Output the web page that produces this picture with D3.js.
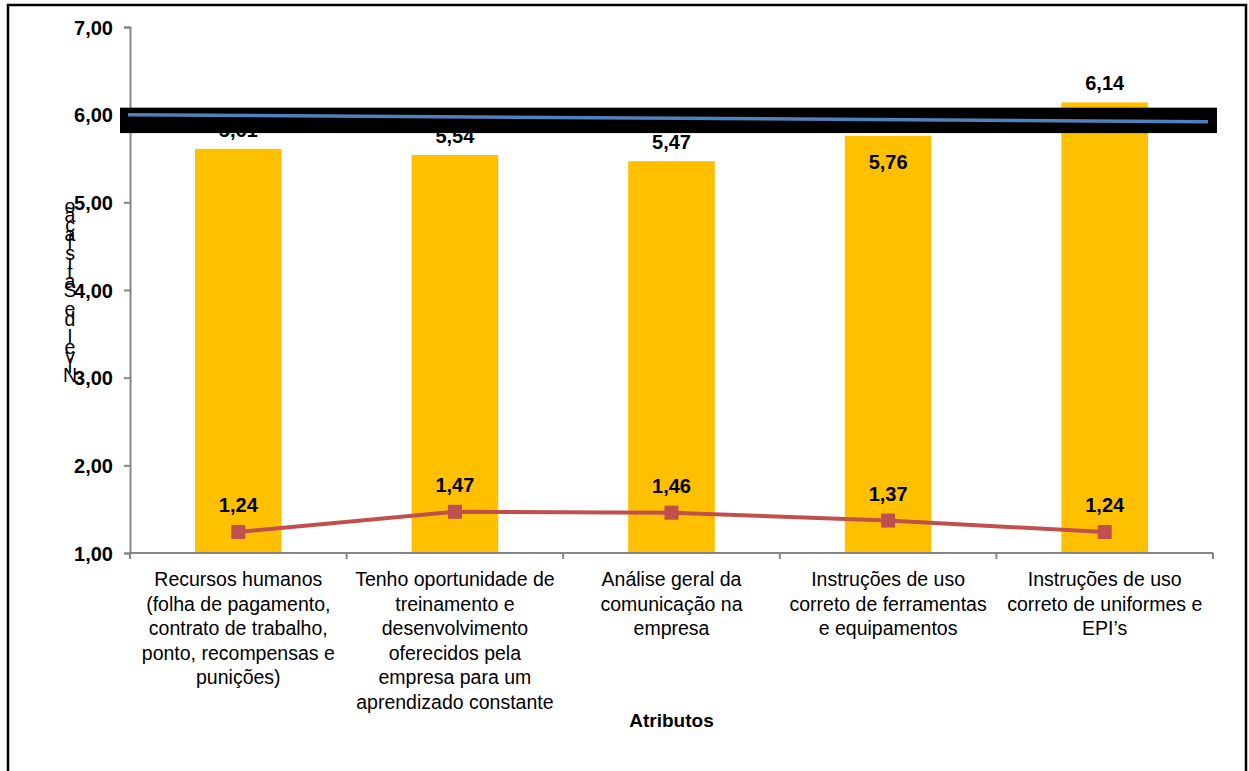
<!DOCTYPE html>
<html>
<head>
<meta charset="utf-8">
<script src="https://cdn.jsdelivr.net/npm/d3@7"></script>
<style>
  html, body { margin: 0; padding: 0; background: #fff; }
  svg { display: block; font-family: "Liberation Sans", Arial, sans-serif; }
</style>
</head>
<body>
<svg id="chart" width="1249" height="771"></svg>
<script>
// Attribute categories (one line per array entry)
const categories = [
  ["Recursos humanos", "(folha de pagamento,", "contrato de trabalho,", "ponto, recompensas e", "punições)"],
  ["Tenho oportunidade de", "treinamento e", "desenvolvimento", "oferecidos pela", "empresa para um", "aprendizado constante"],
  ["Análise geral da", "comunicação na", "empresa"],
  ["Instruções de uso", "correto de ferramentas", "e equipamentos"],
  ["Instruções de uso", "correto de uniformes e", "EPI’s"]
];
// Mean satisfaction per attribute (bars)
const meanValues = [5.61, 5.54, 5.47, 5.76, 6.14];
// Standard deviation per attribute (red line)
const sdValues = [1.24, 1.47, 1.46, 1.37, 1.24];
// Reference line (start / end value) and the dark band behind it
const refLine = [6.00, 5.92];
const refBand = [6.08, 5.79];
// Y axis ticks
const yTicks = [1, 2, 3, 4, 5, 6, 7];
const yLabel = "Nível de Satisfação";
const xLabel = "Atributos";

const fmt = v => d3.format(".2f")(v).replace(".", ",");

const svg = d3.select("#chart");
const W = 1249, H = 771;
const plot = { left: 130, right: 1213, top: 27, bottom: 553 };

// outer frame
svg.append("rect")
  .attr("x", 8).attr("y", 5).attr("width", 1238).attr("height", H + 10)
  .attr("fill", "#fff").attr("stroke", "#000").attr("stroke-width", 2.5);

const x = d3.scaleBand()
  .domain(d3.range(categories.length))
  .range([plot.left, plot.right])
  .padding(0);
const y = d3.scaleLinear().domain([1, 7]).range([plot.bottom, plot.top]);

const barW = x.bandwidth() * 0.4;
const cx = i => x(i) + x.bandwidth() / 2;

// bars
svg.append("g").selectAll("rect")
  .data(meanValues)
  .join("rect")
  .attr("x", (d, i) => cx(i) - barW / 2)
  .attr("y", d => y(d))
  .attr("width", barW)
  .attr("height", d => y(1) - y(d))
  .attr("fill", "#FFC000");

// y axis
const yAxis = svg.append("g")
  .attr("transform", `translate(${plot.left},0)`)
  .call(d3.axisLeft(y).tickValues(yTicks).tickFormat(fmt).tickSize(6).tickSizeOuter(6));
yAxis.select(".domain").attr("stroke", "#868686").attr("stroke-width", 2);
yAxis.selectAll(".tick line").attr("stroke", "#868686").attr("stroke-width", 2);
yAxis.selectAll(".tick text")
  .attr("x", -17).attr("dy", "0.36em")
  .attr("fill", "#000")
  .style("font-size", "20px").style("font-weight", "bold")
  .style("font-family", "'Liberation Sans', Arial, sans-serif");

// x axis with category separators
const xAxisG = svg.append("g").attr("transform", `translate(0,${plot.bottom})`);
xAxisG.append("line")
  .attr("x1", plot.left).attr("x2", plot.right)
  .attr("stroke", "#868686").attr("stroke-width", 2);
xAxisG.selectAll("line.sep")
  .data(d3.range(categories.length + 1))
  .join("line").attr("class", "sep")
  .attr("x1", i => i < categories.length ? x(i) : plot.right)
  .attr("x2", i => i < categories.length ? x(i) : plot.right)
  .attr("y1", 0).attr("y2", 6)
  .attr("stroke", "#868686").attr("stroke-width", 2);

// category labels
const catG = svg.append("g");
categories.forEach((lines, i) => {
  const t = catG.append("text")
    .attr("x", cx(i)).attr("y", plot.bottom + 33)
    .attr("text-anchor", "middle")
    .style("font-size", "19.5px").attr("fill", "#000");
  lines.forEach((ln, j) => {
    t.append("tspan").attr("x", cx(i)).attr("dy", j === 0 ? 0 : 24.5).text(ln);
  });
});

// x axis title
svg.append("text")
  .attr("x", (plot.left + plot.right) / 2).attr("y", 727)
  .attr("text-anchor", "middle")
  .style("font-size", "19px").style("font-weight", "bold")
  .text(xLabel);

// y axis title: upright characters stacked bottom-to-top
const yChars = Array.from(yLabel);
svg.append("g").selectAll("text")
  .data(yChars)
  .join("text")
  .attr("x", 70)
  .attr("y", (d, i) => 382 - i * 9.4)
  .attr("text-anchor", "middle")
  .style("font-size", "19.5px")
  .text(d => d);

// bar value labels: above the bar, or inside it when the band would hide it
const bandTopPx = y(refBand[0]);
const bandBottomPx = y(refBand[1]);
svg.append("g").selectAll("text")
  .data(meanValues)
  .join("text")
  .attr("x", (d, i) => cx(i))
  .attr("y", d => {
    const above = y(d) - 12;
    return (above > bandTopPx && above < bandBottomPx - 4) ? y(d) + 33 : above;
  })
  .attr("text-anchor", "middle")
  .style("font-size", "20px").style("font-weight", "bold")
  .text(fmt);

// dark band with reference line
svg.append("rect")
  .attr("x", plot.left - 10).attr("y", bandTopPx)
  .attr("width", plot.right - plot.left + 14)
  .attr("height", bandBottomPx - bandTopPx)
  .attr("fill", "#000");
svg.append("line")
  .attr("x1", plot.left - 2).attr("y1", y(refLine[0]))
  .attr("x2", plot.right - 5).attr("y2", y(refLine[1]))
  .attr("stroke", "#4F81BD").attr("stroke-width", 3.5);

// standard deviation line with square markers
svg.append("path")
  .datum(sdValues)
  .attr("d", d3.line().x((d, i) => cx(i)).y(d => y(d)))
  .attr("fill", "none").attr("stroke", "#C0504D").attr("stroke-width", 4);
const ms = 14;
svg.append("g").selectAll("rect")
  .data(sdValues)
  .join("rect")
  .attr("x", (d, i) => cx(i) - ms / 2)
  .attr("y", d => y(d) - ms / 2)
  .attr("width", ms).attr("height", ms)
  .attr("fill", "#C0504D");
svg.append("g").selectAll("text")
  .data(sdValues)
  .join("text")
  .attr("x", (d, i) => cx(i))
  .attr("y", d => y(d) - 20)
  .attr("text-anchor", "middle")
  .style("font-size", "20px").style("font-weight", "bold")
  .text(fmt);
</script>
</body>
</html>
